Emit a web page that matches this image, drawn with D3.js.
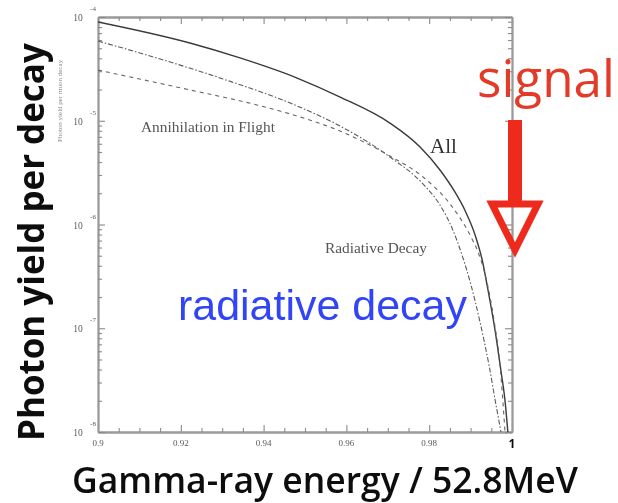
<!DOCTYPE html>
<html>
<head>
<meta charset="utf-8">
<script src="https://cdn.jsdelivr.net/npm/d3@7"></script>
<style>
  html, body { margin: 0; padding: 0; background: #fff; }
  svg { display: block; }
</style>
</head>
<body>
<script>
// Photon yield per muon decay vs. normalised gamma-ray energy (log scale)
const xTickValues = [0.9, 0.92, 0.94, 0.96, 0.98, 1];
const xTickLabels = ["0.9", "0.92", "0.94", "0.96", "0.98", "1"];
const yDecades = [1e-8, 1e-7, 1e-6, 1e-5, 1e-4];
const yExponents = ["-8", "-7", "-6", "-5", "-4"];

// "All" (sum of both sources)
const energyAll = [0.9, 0.9222, 0.9343, 0.9481, 0.9585, 0.9705, 0.9778, 0.9826, 0.9862, 0.9886, 0.9911, 0.9928, 0.9942, 0.9959, 0.9973, 0.9983, 0.9990];
const yieldAll  = [8.95e-5, 5.61e-5, 4.03e-5, 2.58e-5, 1.69e-5, 9.5e-6, 5.58e-6, 3.35e-6, 2.06e-6, 1.38e-6, 7.9e-7, 4.55e-7, 2.34e-7, 9.6e-8, 3.96e-8, 2.03e-8, 1.0e-8];

// Radiative decay
const energyRad = [0.9, 0.91425, 0.93019, 0.94807, 0.95845, 0.97053, 0.9785, 0.98261, 0.98551, 0.98792, 0.9901, 0.99227, 0.99444, 0.99614, 0.99734];
const yieldRad  = [5.87e-5, 4.02e-5, 2.53e-5, 1.39e-5, 8.9e-6, 4.47e-6, 2.46e-6, 1.54e-6, 9.25e-7, 5.08e-7, 2.61e-7, 1.15e-7, 4.42e-8, 1.82e-8, 1.0e-8];

// Annihilation in flight
const energyAif = [0.9, 0.92222, 0.93841, 0.94807, 0.95845, 0.97053, 0.9785, 0.98502, 0.98986, 0.99179, 0.99372, 0.99565, 0.9971, 0.99831];
const yieldAif  = [3.08e-5, 1.98e-5, 1.42e-5, 1.11e-5, 7.96e-6, 4.57e-6, 2.87e-6, 1.58e-6, 7.92e-7, 5.43e-7, 3.05e-7, 1.2e-7, 4.42e-8, 1.0e-8];

const W = 618, H = 503;
const plot = { left: 98, right: 512, top: 17, bottom: 432 };

const svg = d3.select("body").append("svg").attr("width", W).attr("height", H);

const defs = svg.append("defs");
defs.append("filter").attr("id", "soft").attr("x", "-5%").attr("y", "-5%").attr("width", "110%").attr("height", "110%")
  .append("feGaussianBlur").attr("stdDeviation", 0.7);
defs.append("filter").attr("id", "softer").attr("x", "-5%").attr("y", "-5%").attr("width", "110%").attr("height", "110%")
  .append("feGaussianBlur").attr("stdDeviation", 0.45);
defs.append("clipPath").attr("id", "plotClip").append("rect")
  .attr("x", plot.left).attr("y", plot.top)
  .attr("width", plot.right - plot.left).attr("height", plot.bottom - plot.top);

const x = d3.scaleLinear().domain([0.9, 1]).range([plot.left, plot.right]);
const y = d3.scaleLog().domain([1e-8, 1e-4]).range([plot.bottom, plot.top]);

// scanned-looking figure part
const fig = svg.append("g").attr("filter", "url(#soft)");

const minorX = d3.range(0.9, 1.0001, 0.005).filter(v => Math.abs(v * 50 - Math.round(v * 50)) > 1e-6);
const minorY = [];
for (let e = -8; e < -4; e++) for (let k = 2; k <= 9; k++) minorY.push(k * Math.pow(10, e));

function styleAxis(g) {
  g.select(".domain").attr("stroke", "#9a9a9a").attr("stroke-width", 1.8);
  g.selectAll(".tick line").attr("stroke", "#8a8a8a").attr("stroke-width", 1.1);
  g.selectAll(".tick text").remove();
}

// bottom / top axes
fig.append("g").attr("transform", `translate(0,${plot.bottom})`)
  .call(d3.axisBottom(x).tickValues(xTickValues).tickSize(-7).tickSizeOuter(0)).call(styleAxis);
fig.append("g").attr("transform", `translate(0,${plot.bottom})`)
  .call(d3.axisBottom(x).tickValues(minorX).tickSize(-4).tickSizeOuter(0)).call(styleAxis);
fig.append("g").attr("transform", `translate(0,${plot.top})`)
  .call(d3.axisTop(x).tickValues(xTickValues).tickSize(-7).tickSizeOuter(0)).call(styleAxis);
fig.append("g").attr("transform", `translate(0,${plot.top})`)
  .call(d3.axisTop(x).tickValues(minorX).tickSize(-4).tickSizeOuter(0)).call(styleAxis);

// left / right axes
fig.append("g").attr("transform", `translate(${plot.left},0)`)
  .call(d3.axisLeft(y).tickValues(yDecades).tickSize(-7).tickSizeOuter(0)).call(styleAxis);
fig.append("g").attr("transform", `translate(${plot.left},0)`)
  .call(d3.axisLeft(y).tickValues(minorY).tickSize(-4).tickSizeOuter(0)).call(styleAxis);
fig.append("g").attr("transform", `translate(${plot.right},0)`)
  .call(d3.axisRight(y).tickValues(yDecades).tickSize(-7).tickSizeOuter(0)).call(styleAxis);
fig.append("g").attr("transform", `translate(${plot.right},0)`)
  .call(d3.axisRight(y).tickValues(minorY).tickSize(-4).tickSizeOuter(0)).call(styleAxis);

// y decade labels: 10 with superscript exponent
yDecades.forEach((d, i) => {
  const yy = y(d);
  fig.append("text").attr("x", 78).attr("y", yy + 4)
    .attr("text-anchor", "middle")
    .attr("font-family", "Liberation Serif, serif").attr("font-size", 9.5)
    .attr("fill", "#5a5a5a").text("10");
  fig.append("text").attr("x", 93).attr("y", yy - 6)
    .attr("text-anchor", "middle")
    .attr("font-family", "Liberation Serif, serif").attr("font-size", 7)
    .attr("fill", "#5a5a5a").text(yExponents[i]);
});

// x tick labels
xTickValues.forEach((d, i) => {
  const last = i === xTickValues.length - 1;
  svg.append("text").attr("x", x(d)).attr("y", last ? 448 : 446)
    .attr("text-anchor", "middle")
    .attr("font-family", last ? "Open Sans, sans-serif" : "Liberation Serif, serif")
    .attr("font-weight", last ? 700 : 400)
    .attr("font-size", last ? 12 : 9)
    .attr("fill", last ? "#111" : "#5a5a5a")
    .attr("filter", last ? "url(#softer)" : "url(#soft)")
    .text(xTickLabels[i]);
});

// small original axis caption
fig.append("text")
  .attr("transform", "translate(62,142) rotate(-90)")
  .attr("font-family", "Liberation Serif, serif").attr("font-size", 7)
  .attr("fill", "#8a8a8a")
  .text("Photon yield per muon decay");

// curves
const line = d3.line().x(d => x(d[0])).y(d => y(d[1])).curve(d3.curveMonotoneX);
const curves = fig.append("g").attr("clip-path", "url(#plotClip)").attr("fill", "none");
curves.append("path").datum(d3.zip(energyAll, yieldAll))
  .attr("d", line).attr("stroke", "#3a3a3a").attr("stroke-width", 1.4);
curves.append("path").datum(d3.zip(energyRad, yieldRad))
  .attr("d", line).attr("stroke", "#5a5a5a").attr("stroke-width", 1.1)
  .attr("stroke-dasharray", "5,2,1.5,2");
curves.append("path").datum(d3.zip(energyAif, yieldAif))
  .attr("d", line).attr("stroke", "#666").attr("stroke-width", 1.1)
  .attr("stroke-dasharray", "4,4");

// curve captions inside the plot
function fitText(sel, width) {
  const w = sel.node().getComputedTextLength();
  const fs = parseFloat(sel.attr("font-size"));
  sel.attr("font-size", fs * width / w);
  return sel;
}
fitText(fig.append("text").attr("x", 141).attr("y", 132)
  .attr("font-family", "Liberation Serif, serif").attr("font-size", 11)
  .attr("fill", "#555").text("Annihilation in Flight"), 134);
fitText(fig.append("text").attr("x", 325).attr("y", 253)
  .attr("font-family", "Liberation Serif, serif").attr("font-size", 10)
  .attr("fill", "#555").text("Radiative Decay"), 102);
fitText(fig.append("text").attr("x", 430).attr("y", 153)
  .attr("font-family", "Liberation Serif, serif").attr("font-size", 20)
  .attr("fill", "#333").text("All"), 27);

// overlay annotations
const over = svg.append("g").attr("filter", "url(#softer)");

fitText(over.append("text").attr("x", 178).attr("y", 320)
  .attr("font-family", "Liberation Sans, Arial, sans-serif").attr("font-size", 43)
  .attr("fill", "#3344f6").text("radiative decay"), 289);

fitText(over.append("text").attr("x", 477).attr("y", 97)
  .attr("font-family", "Open Sans, sans-serif").attr("font-size", 50)
  .attr("fill", "#e33b2c").text("signal"), 138);

// signal arrow pointing at the endpoint x = 1
const ax = x(1) + 3;
over.append("rect").attr("x", ax - 7).attr("y", 120).attr("width", 14).attr("height", 84)
  .attr("fill", "#ee2a1e");
over.append("path")
  .attr("d", `M${ax - 23},${204} L${ax + 23},${204} L${ax},${250} Z`)
  .attr("fill", "none").attr("stroke", "#ee2a1e").attr("stroke-width", 7)
  .attr("stroke-linejoin", "miter");

// axis titles
const yTitle = over.append("text")
  .attr("transform", "translate(44,441) rotate(-90)")
  .attr("font-family", "Open Sans, sans-serif").attr("font-weight", 700)
  .attr("font-size", 30).attr("fill", "#111").text("Photon yield per decay");
fitText(yTitle, 398);

fitText(over.append("text").attr("x", 72).attr("y", 493)
  .attr("font-family", "Open Sans, sans-serif").attr("font-weight", 600)
  .attr("font-size", 32).attr("fill", "#111").text("Gamma-ray energy / 52.8MeV"), 506);
</script>
</body>
</html>
